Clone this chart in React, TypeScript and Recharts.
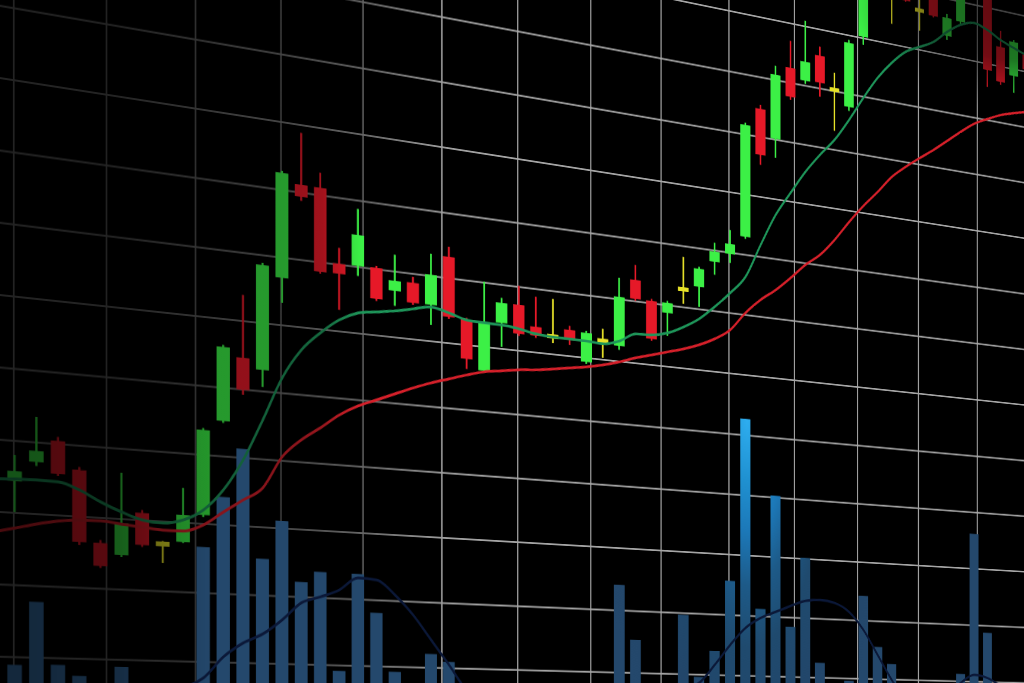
import React from "react";
import { ComposedChart, Bar, Line, XAxis, YAxis, CartesianGrid } from "recharts";

// ---- data ----
const IDX = [0,1,2,3,4,5,6,7,8,9,10,11,12,13,14,15,16,17,18,19,20,21,22,23,24,25,26,27,28,29,30,31,32,33,34,35,36,37,38,39,40,41,42,43,44,45,46,47,48,49,50,51,52,53,54,55,56,57,58,59,60,61];

const OPEN = [52.20,52.21,53.64,55.22,53.29,48.23,47.45,50.53,48.39,48.61,50.65,57.58,62.32,61.57,68.51,75.58,75.56,70.07,70.08,70.11,68.54,69.32,67.80,71.65,66.95,63.16,67.03,68.60,67.03,66.42,67.09,64.69,66.52,66.26,71.73,70.20,69.38,71.47,71.84,74.07,74.89,76.50,87.36,85.07,91.27,90.42,92.78,90.12,88.89,95.14,99.40,99.54,101.00,98.46,101.39,96.74,98.24,103.00,101.58,96.76,94.41,96.50];
const HIGH = [53.44,54.02,56.78,55.50,53.50,48.44,53.28,50.74,48.60,52.51,56.95,63.12,66.92,69.44,76.41,79.43,76.68,71.26,74.37,70.26,71.28,69.77,71.71,72.42,67.11,70.07,68.98,70.08,69.39,69.38,67.41,67.16,67.48,71.73,72.94,70.36,70.36,74.12,73.48,75.64,76.88,85.98,87.69,91.20,93.54,95.49,93.55,91.57,94.62,99.62,101.80,101.00,101.50,100.25,101.80,98.67,101.50,103.50,102.00,98.20,97.63,97.40];
const LOW = [51.51,50.06,53.36,52.77,48.01,46.46,47.31,48.10,47.03,48.54,50.50,57.44,59.62,60.32,66.67,74.39,69.16,66.62,69.33,67.61,67.40,67.64,66.26,66.88,63.16,63.00,65.16,66.17,66.16,65.90,65.90,64.53,65.16,65.94,70.04,66.96,67.51,70.28,70.20,73.00,74.15,76.33,82.69,83.48,88.58,90.16,89.30,86.63,88.55,94.46,99.00,96.77,98.95,96.69,98.10,96.39,97.97,100.60,92.95,93.37,92.89,94.60];
const CLOSE = [52.89,52.90,54.41,52.91,48.22,46.60,49.73,48.24,48.39,50.56,56.81,62.97,59.98,69.28,76.26,74.69,69.30,69.32,72.41,67.77,69.30,67.79,70.10,67.03,63.94,66.96,68.59,66.33,66.32,66.42,66.30,67.00,66.52,70.20,70.20,67.12,70.20,71.47,73.32,74.90,75.72,85.80,83.52,90.45,88.83,92.02,90.49,90.12,94.37,99.19,101.30,99.54,99.05,98.46,98.23,98.32,101.07,101.00,94.46,93.64,97.45,95.20];

const MA_FAST = [52.27,52.35,52.39,52.35,51.88,51.13,50.51,50.03,49.90,50.20,51.01,52.56,54.85,57.89,61.12,63.33,64.75,65.87,66.54,66.78,67.02,67.33,67.64,67.34,66.95,66.89,66.87,66.72,66.47,66.38,66.38,66.36,66.28,66.65,67.37,67.44,67.75,68.39,69.21,70.36,71.66,73.16,76.00,78.70,80.75,82.72,84.38,85.87,87.79,89.91,91.86,93.40,94.60,95.27,95.96,97.09,97.97,98.40,98.02,97.38,96.91,96.50];
const MA_SLOW = [48.60,48.95,49.32,49.61,49.77,49.79,49.65,49.52,49.39,49.40,49.92,50.95,51.92,52.90,55.29,56.66,57.67,58.75,59.55,60.13,60.72,61.30,61.82,62.26,62.70,63.08,63.29,63.51,63.65,63.85,64.08,64.30,64.59,64.97,65.44,65.82,66.21,66.60,67.08,67.72,68.60,70.17,71.42,72.41,73.59,74.86,75.89,77.34,79.05,80.62,82.02,83.52,84.60,85.57,86.49,87.50,88.52,89.45,90.10,90.68,91.08,91.40];

const VOLUME = [290,554,1195,564,458,310,559,280,260,300,1838,2376,2898,1744,2161,1518,1636,573,1633,1217,577,320,786,703,290,260,310,280,300,270,260,290,310,1652,1019,300,320,1334,605,920,1764,3723,1445,2824,1242,2093,814,330,602,1663,1035,828,310,290,280,300,727,2527,1264,320,300,310];
const VOL_MA = [240,250,255,260,262,265,270,285,320,360,465,691,844,946,1103,1293,1366,1450,1590,1577,1423,1210,941,669,395,300,270,260,255,250,250,255,260,270,285,300,350,447,534,753,997,1208,1336,1417,1498,1567,1588,1559,1456,1240,935,628,380,300,320,455,612,719,684,586,473,400];

const PRICE_TICKS = [35,40,45,50,55,60,65,70,75,80,85,90,95,100,105];
const GRID_X_TICKS = [0.95,5.28,9.61,13.94,18.27,22.6,26.93,31.26,35.59,39.92,44.25,48.58,52.91,57.24];

const data = IDX.map((d, k) => ({
  idx: d,
  open: OPEN[k],
  high: HIGH[k],
  low: LOW[k],
  close: CLOSE[k],
  range: [LOW[k], HIGH[k]],
  maFast: MA_FAST[k],
  maSlow: MA_SLOW[k],
  vol: VOLUME[k],
  volMa: VOL_MA[k],
}));

// ---- styling ----
const CHART_W = 1578;
const CHART_H = 1056;

const GREEN = [60, 240, 70];
const RED = [230, 25, 40];
const YELLOW = [230, 225, 40];
const MA_GREEN = [30, 150, 90];
const MA_RED = [214, 32, 42];
const GRID = [165, 165, 165];

// brightness falloff toward the left side (x in chart px -> factor)
const FADE_MARK: [number, number][] = [[0, 0.62], [371, 0.64], [423, 0.7], [447, 0.86], [475, 1], [CHART_W, 1]];
const FADE_GRID: [number, number][] = [[0, 0.4], [262, 0.33], [371, 0.42], [479, 0.62], [589, 0.95], [672, 1], [CHART_W, 1]];

const rgb = (c: number[], f: number) =>
  `rgb(${Math.round(c[0] * f)},${Math.round(c[1] * f)},${Math.round(c[2] * f)})`;

const FadeGrad = ({ id, color, fade }: { id: string; color: number[]; fade: [number, number][] }) => (
  <linearGradient id={id} gradientUnits="userSpaceOnUse" x1="0" y1="0" x2={CHART_W} y2="0">
    {fade.map(([x, f], i) => (
      <stop key={i} offset={x / CHART_W} stopColor={rgb(color, f)} />
    ))}
  </linearGradient>
);

const Candle = (props: any) => {
  const { x, y, width, height, payload } = props;
  if (!payload || x == null || y == null) return null;
  const top = Math.min(y, y + height);
  const h = Math.abs(height);
  const { open, close, high, low } = payload;
  const span = high - low || 1;
  const ratio = h / span;
  let bodyTop = top + (high - Math.max(open, close)) * ratio;
  let bodyH = Math.abs(open - close) * ratio;
  const fill = close > open ? "url(#gGreen)" : close < open ? "url(#gRed)" : "url(#gYellow)";
  const minH = 5;
  if (bodyH < minH) {
    bodyTop -= (minH - bodyH) / 2;
    bodyH = minH;
  }
  const cx = x + width / 2;
  return (
    <g>
      <rect x={cx - 1.3} y={top} width={2.6} height={h} fill={fill} />
      <rect x={x} y={bodyTop} width={width} height={bodyH} fill={fill} />
    </g>
  );
};

export default function App() {
  return (
    <div
      style={{
        position: "fixed",
        left: 0,
        top: 0,
        width: 1024,
        height: 683,
        overflow: "hidden",
        background: "#000",
      }}
    >
      <div
        style={{
          position: "absolute",
          left: -20.8,
          top: -298,
          width: CHART_W,
          height: CHART_H,
          transformOrigin: "20.8px 1068px",
          transform: "perspective(2555px) rotateY(30deg)",
        }}
      >
        <ComposedChart width={CHART_W} height={CHART_H} data={data} margin={{ top: 0, right: 0, bottom: 0, left: 0 }}>
          <defs>
            <FadeGrad id="gGreen" color={GREEN} fade={FADE_MARK} />
            <FadeGrad id="gRed" color={RED} fade={FADE_MARK} />
            <FadeGrad id="gYellow" color={YELLOW} fade={FADE_MARK} />
            <FadeGrad id="gMaGreen" color={MA_GREEN} fade={FADE_MARK} />
            <FadeGrad id="gMaRed" color={MA_RED} fade={FADE_MARK} />
            <FadeGrad id="gGrid" color={GRID} fade={FADE_GRID} />
            <radialGradient
              id="volGrad"
              gradientUnits="userSpaceOnUse"
              cx="1059"
              cy="646"
              r="250"
              gradientTransform="translate(1059,646) scale(1,2) translate(-1059,-646)"
            >
              <stop offset="0" stopColor="#2eaef0" />
              <stop offset="0.15" stopColor="#1f90d0" />
              <stop offset="0.27" stopColor="#1c78b8" />
              <stop offset="0.4" stopColor="#1d5a88" />
              <stop offset="0.55" stopColor="#1f4a6e" />
              <stop offset="0.75" stopColor="#22466a" />
              <stop offset="1" stopColor="#24486c" />
            </radialGradient>
          </defs>
          <XAxis xAxisId="main" dataKey="idx" type="category" hide />
          <XAxis xAxisId="vol" dataKey="idx" type="category" hide />
          <XAxis xAxisId="grid" dataKey="idx" type="number" domain={[-0.5, 61.5]} ticks={GRID_X_TICKS} allowDataOverflow hide />
          <YAxis yAxisId="price" type="number" domain={[33, 106]} ticks={PRICE_TICKS} allowDataOverflow hide />
          <YAxis yAxisId="vol" type="number" domain={[-380, 10180]} allowDataOverflow hide />
          <CartesianGrid xAxisId="grid" yAxisId="price" stroke="url(#gGrid)" strokeWidth={2} />
          <Bar xAxisId="vol" yAxisId="vol" dataKey="vol" barSize={17} fill="url(#volGrad)" isAnimationActive={false} />
          <Line xAxisId="vol" yAxisId="vol" dataKey="volMa" type="monotone" stroke="#0b1838" strokeWidth={3} dot={false} activeDot={false} isAnimationActive={false} />
          <Line xAxisId="main" yAxisId="price" dataKey="maSlow" type="monotone" stroke="url(#gMaRed)" strokeWidth={3} dot={false} activeDot={false} isAnimationActive={false} />
          <Line xAxisId="main" yAxisId="price" dataKey="maFast" type="monotone" stroke="url(#gMaGreen)" strokeWidth={3} dot={false} activeDot={false} isAnimationActive={false} />
          <Bar xAxisId="main" yAxisId="price" dataKey="range" barSize={17} shape={(p: any) => <Candle {...p} />} isAnimationActive={false} />
        </ComposedChart>
      </div>
      <div
        style={{
          position: "absolute",
          inset: 0,
          pointerEvents: "none",
          background:
            "linear-gradient(to right, rgba(0,0,0,0.45) 0px, rgba(0,0,0,0.38) 120px, rgba(0,0,0,0.12) 175px, rgba(0,0,0,0) 215px)",
        }}
      />
      <div
        style={{
          position: "absolute",
          inset: 0,
          pointerEvents: "none",
          background:
            "radial-gradient(170px 110px at 1024px 0px, rgba(0,0,0,0.6) 0%, rgba(0,0,0,0.5) 55%, rgba(0,0,0,0) 100%)",
        }}
      />
    </div>
  );
}
